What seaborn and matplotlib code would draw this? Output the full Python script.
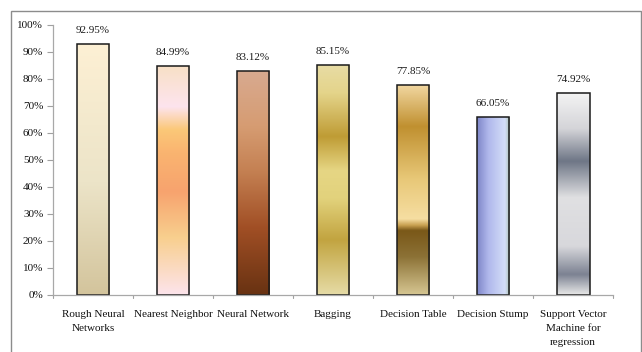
import numpy as np
import pandas as pd
import matplotlib
matplotlib.use("Agg")
import matplotlib.pyplot as plt
import seaborn as sns
from matplotlib.colors import LinearSegmentedColormap
from matplotlib.patches import Rectangle

categories = ["Rough Neural\nNetworks", "Nearest Neighbor", "Neural Network", "Bagging",
              "Decision Table", "Decision Stump", "Support Vector\nMachine for\nregression"]
accuracy = [92.95, 84.99, 83.12, 85.15, 77.85, 66.05, 74.92]
value_labels = ["92.95%", "84.99%", "83.12%", "85.15%", "77.85%", "66.05%", "74.92%"]
y_ticks = [0, 10, 20, 30, 40, 50, 60, 70, 80, 90, 100]

# gradient fills per bar: (position from bar bottom 0..1, colour)
fills = [
    [(0.0, "#d3c49c"), (0.45, "#ece4c8"), (1.0, "#fdf0d4")],
    [(0.0, "#fde4ec"), (0.25, "#f8cf8e"), (0.45, "#f7a36e"), (0.62, "#fab470"),
     (0.72, "#fbc878"), (0.82, "#fde4ee"), (1.0, "#f8e0c6")],
    [(0.0, "#683212"), (0.3, "#a14f25"), (0.55, "#c48052"), (0.75, "#d69c72"), (1.0, "#d8aa90")],
    [(0.0, "#e6dca6"), (0.24, "#c2a440"), (0.42, "#e2d27c"), (0.54, "#e6d684"),
     (0.69, "#bf9c35"), (0.88, "#e4d48a"), (1.0, "#e8dca4")],
    [(0.0, "#d6c692"), (0.18, "#8c7236"), (0.305, "#7a5818"), (0.33, "#c8a050"),
     (0.36, "#f6dea2"), (0.55, "#e8c878"), (0.8, "#c09030"), (1.0, "#f2d8a2")],
    None,
    [(0.0, "#e8e8e8"), (0.1, "#7c8292"), (0.24, "#d8d8dc"), (0.48, "#e0e0e2"),
     (0.66, "#6e7686"), (0.82, "#d4d4d8"), (1.0, "#f4f4f4")],
]
stump_fill = [(0.0, "#7e86c8"), (0.35, "#b0b8ec"), (0.85, "#d4def8"), (1.0, "#a8c0b0")]

sns.set_theme(style="white")
plt.rcParams["font.family"] = ["Liberation Serif", "DejaVu Serif"]

fig = plt.figure(figsize=(6.42, 3.52), dpi=100)
ax = fig.add_axes([0.0826, 0.162, 0.8724, 0.767])

df = pd.DataFrame({"method": categories, "accuracy": accuracy})
sns.barplot(data=df, x="method", y="accuracy", ax=ax, width=0.41,
            color="white", edgecolor="#1a1a1a", linewidth=1.1, saturation=1)

ax.set_ylim(0, 100)
ax.set_xlim(-0.5, len(categories) - 0.5)

for i, patch in enumerate(ax.patches):
    x0, y0 = patch.get_x(), patch.get_y()
    w, h = patch.get_width(), patch.get_height()
    if fills[i] is None:
        cmap = LinearSegmentedColormap.from_list(f"g{i}", stump_fill)
        grad = np.linspace(0, 1, 256)[None, :]
    else:
        cmap = LinearSegmentedColormap.from_list(f"g{i}", fills[i])
        grad = np.linspace(0, 1, 512)[:, None]
    im = ax.imshow(grad, cmap=cmap, extent=[x0, x0 + w, y0, y0 + h],
                   origin="lower", aspect="auto", interpolation="bilinear",
                   zorder=patch.get_zorder() - 0.1)
    clip = Rectangle((x0, y0), w, h, transform=ax.transData)
    im.set_clip_path(clip)
    patch.set_facecolor("none")
    patch.set_zorder(patch.get_zorder() + 0.5)
    ax.text(x0 + w / 2, y0 + h + 3.3, value_labels[i], ha="center", va="bottom",
            fontsize=8, color="#1a1a1a")

ax.set_xlim(-0.5, len(categories) - 0.5)
ax.set_ylim(0, 100)
ax.set_yticks(y_ticks)
ax.set_yticklabels([f"{t}%" for t in y_ticks])
ax.set_xticks(range(len(categories)))
ax.set_xticklabels(categories)
ax.tick_params(axis="x", length=0, labelsize=8, pad=11, colors="#111111")
ax.tick_params(axis="y", length=4, width=0.8, color="#a0a0a0", labelsize=8,
               pad=3, left=True)
ax.tick_params(axis="y", colors="#a0a0a0", labelcolor="#111111")
for lbl in ax.get_xticklabels():
    lbl.set_linespacing(1.72)
    lbl.set_verticalalignment("top")

# separators between categories on the category axis
for b in np.arange(-0.5, len(categories), 1.0):
    ax.plot([b, b], [0, -1.3], color="#a0a0a0", lw=0.8, clip_on=False)

ax.set_xlabel("")
ax.set_ylabel("")
sns.despine(ax=ax, top=True, right=True)
for side in ("left", "bottom"):
    ax.spines[side].set_color("#a8a8a8")
    ax.spines[side].set_linewidth(0.9)

# chart frame
fig.patches.append(Rectangle((11 / 642, -0.01), 629.5 / 642, 1 - 11 / 352 + 0.01,
                             transform=fig.transFigure, fill=False,
                             edgecolor="#8c8c8c", linewidth=1.0))

fig.savefig("out.png", dpi=100)
